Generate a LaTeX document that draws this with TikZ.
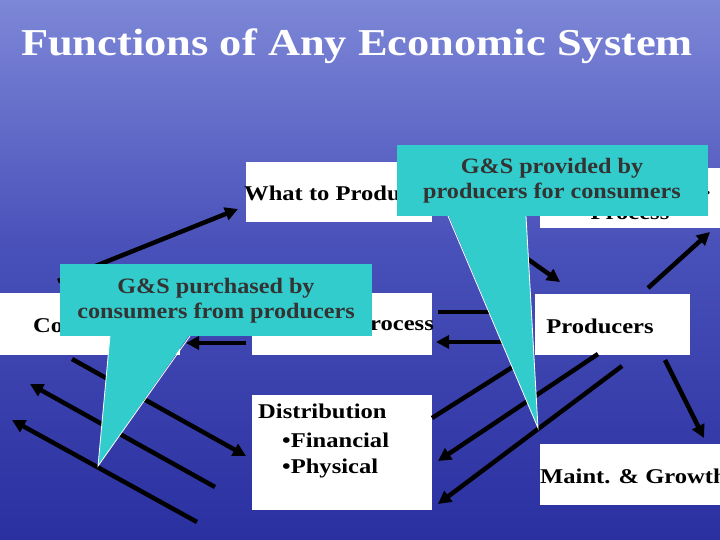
\documentclass[tikz,border=0pt]{standalone}
\usepackage{fontspec}
\setmainfont{Liberation Serif}
\usetikzlibrary{arrows.meta}
\definecolor{cal}{RGB}{51,204,204}
\definecolor{skytop}{RGB}{125,135,215}
\definecolor{skymid}{RGB}{72,80,185}
\definecolor{water}{RGB}{42,48,160}
\newcommand{\wx}[1]{\scalebox{1.17}[1]{#1}}
\newcommand{\cx}[1]{\scalebox{1.1}[1]{#1}}
\begin{document}
\begin{tikzpicture}[x=1pt,y=-1pt,
  box/.style={fill=white,draw=none,inner sep=0pt},
  btxt/.style={font=\bfseries\fontsize{21}{23}\selectfont,inner sep=0pt,anchor=west},
  arr/.style={line width=4.5pt,-{Triangle[length=13pt,width=13pt]}},
  bar/.style={line width=4.5pt},
  callout/.style={fill=cal,draw=none},
  ctxt/.style={font=\bfseries\fontsize{22}{25}\selectfont,align=center,text=black!80}]
\useasboundingbox (0,0) rectangle (720,540);
% background
\shade[top color=skytop,bottom color=skymid] (0,0) rectangle (720,250);
\shade[top color=skymid,bottom color=water] (0,250) rectangle (720,540);
\node[text=white,font=\bfseries\fontsize{38}{40}\selectfont] (title) at (357,46) {\scalebox{1.17}[1]{Functions of Any Economic System}};
% boxes
\path[box] (246,162) rectangle (432,222) node[midway] (what) {};
\path[box] (540,168) rectangle (720,228) node[midway] (prod) {};
\path[box] (0,293) rectangle (180,355) node[midway] (cons) {};
\path[box] (252,293) rectangle (432,355) node[midway] (exch) {};
\path[box] (535,294) rectangle (690,355) node[midway] (producers) {};
\path[box] (252,395) rectangle (432,510) node[midway] (dist) {};
\path[box] (540,444) rectangle (720,505) node[midway] (maint) {};
\node[btxt] (whatt) at (244,193) {\wx{What to Produce}};
\node[btxt,anchor=east] (prodt1) at (711,187) {\wx{Prodn.}};
\node[btxt,anchor=center] (prodt2) at (630,213) {\wx{Process}};
\node[btxt] (const) at (33,326) {\wx{Consumers}};
\node[btxt,anchor=east] (exct) at (434,326) {\wx{Exchange Process}};
\node[btxt,anchor=center] (prot) at (600,326) {\wx{Producers}};
\node[btxt] (distt) at (258,411) {\wx{Distribution}};
\node[btxt] (fin) at (282,440) {\wx{\textbullet Financial}};
\node[btxt] (phy) at (282,468) {\wx{\textbullet Physical}};
\node[btxt] (maintt) at (540,476) {\wx{Maint. \& Growth}};
% connectors
\coordinate (c1) at (58,281); \coordinate (w1) at (238,209);
\draw[arr] (c1) -- (w1);
\coordinate (w2) at (470,218); \coordinate (p1) at (560,282);
\draw[arr] (w2) -- (p1);
\coordinate (p2) at (648,288); \coordinate (pr1) at (710,232);
\draw[arr] (p2) -- (pr1);
\coordinate (e1) at (438,312); \coordinate (p3) at (530,312);
\draw[bar] (e1) -- (p3);
\coordinate (p4) at (530,342); \coordinate (e2) at (436,342);
\draw[arr] (p4) -- (e2);
\coordinate (c2) at (185,312); \coordinate (e3) at (248,312);
\draw[bar] (c2) -- (e3);
\coordinate (e4) at (246,343); \coordinate (c3) at (186,343);
\draw[arr] (e4) -- (c3);
\coordinate (c4) at (72,359); \coordinate (d1) at (246,456);
\draw[arr] (c4) -- (d1);
\coordinate (d2) at (215,487); \coordinate (c5) at (30,384);
\draw[arr] (d2) -- (c5);
\coordinate (d3) at (197,522); \coordinate (c6) at (12,420);
\draw[arr] (d3) -- (c6);
\coordinate (d4) at (432,418); \coordinate (p5) at (530,356);
\draw[bar] (d4) -- (p5);
\coordinate (p6) at (598,354); \coordinate (d5) at (438,461);
\draw[arr] (p6) -- (d5);
\coordinate (p7) at (622,366); \coordinate (d6) at (438,504);
\draw[arr] (p7) -- (d6);
\coordinate (p8) at (665,360); \coordinate (m1) at (704,438);
\draw[arr] (p8) -- (m1);
% callouts
\fill[callout] (397,145) rectangle (708,216);
\fill[callout] (448,214) -- (538,428) -- (526,214) -- cycle;
\draw[white,line width=0.8pt] (448,216) -- (538,428) -- (526,216);
\node[ctxt] (call1) at (552,181) {\cx{G\&S provided by}\\\cx{producers for consumers}};
\fill[callout] (60,264) rectangle (372,336);
\fill[callout] (110,334) -- (98,466) -- (190,334) -- cycle;
\draw[white,line width=0.8pt] (110,336) -- (98,466) -- (190,336);
\node[ctxt] (call2) at (216,301) {\cx{G\&S purchased by}\\\cx{consumers from producers}};
\end{tikzpicture}
\end{document}
